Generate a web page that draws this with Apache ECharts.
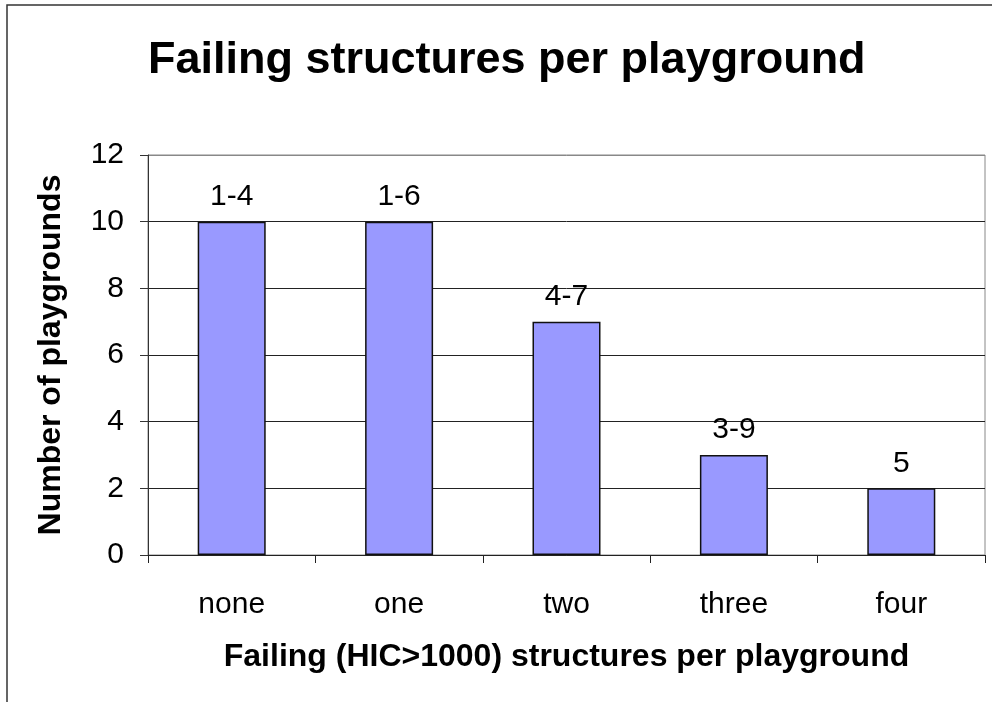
<!DOCTYPE html>
<html>
<head>
<meta charset="utf-8">
<script src="https://cdn.jsdelivr.net/npm/echarts@6/dist/echarts.min.js"></script>
<style>
	html, body { margin: 0; padding: 0; background: #fff; }
	#chart { width: 992px; height: 702px; }
</style>
</head>
<body>
<div id="chart"></div>
<script>
var categories = ['none', 'one', 'two', 'three', 'four'];
var playgrounds = [10, 10, 7, 3, 2];
var rangeLabels = ['1-4', '1-6', '4-7', '3-9', '5'];
var yTicks = [0, 2, 4, 6, 8, 10, 12];

var font = 'Arial, "Liberation Sans", sans-serif';
var chart = echarts.init(document.getElementById('chart'));

var option = {
	backgroundColor: '#fff',
	animation: false,
	title: {
		text: 'Failing structures per playground',
		left: 143,
		top: 33,
		textStyle: {
			fontFamily: font,
			fontSize: 45,
			fontWeight: 'bold',
			color: '#000'
		}
	},
	graphic: [{
		type: 'rect',
		shape: { x: 7, y: 5, width: 2000, height: 2000 },
		style: { fill: 'none', stroke: '#333', lineWidth: 1.5 },
		silent: true
	}],
	grid: {
		left: 148,
		right: 7,
		top: 155,
		bottom: 147,
		show: true,
		borderColor: '#888',
		borderWidth: 1
	},
	xAxis: {
		type: 'category',
		data: categories,
		name: 'Failing (HIC>1000) structures per playground',
		nameLocation: 'middle',
		nameGap: 86,
		nameTextStyle: { fontFamily: font, fontSize: 32, fontWeight: 'bold', color: '#000' },
		axisLine: { lineStyle: { color: '#222', width: 1 } },
		axisTick: { show: true, inside: false, length: 8, alignWithLabel: false, lineStyle: { color: '#222' } },
		axisLabel: { fontFamily: font, fontSize: 30, color: '#000', margin: 35 }
	},
	yAxis: {
		type: 'value',
		min: yTicks[0],
		max: yTicks[yTicks.length - 1],
		interval: 2,
		name: 'Number of playgrounds',
		nameLocation: 'middle',
		nameGap: 81,
		nameTextStyle: { fontFamily: font, fontSize: 32, fontWeight: 'bold', color: '#000' },
		axisLine: { show: true, lineStyle: { color: '#333', width: 1 } },
		axisTick: { show: true, length: 8, lineStyle: { color: '#333' } },
		axisLabel: { fontFamily: font, fontSize: 30, color: '#000', margin: 24 },
		splitLine: {
			show: true,
			lineStyle: { color: ['#222', '#222', '#222', '#222', '#222', '#222', '#888'], width: 1 }
		}
	},
	series: [{
		type: 'bar',
		data: playgrounds,
		barWidth: 68,
		itemStyle: { color: '#9999ff', borderColor: '#111', borderWidth: 1.5 },
		label: {
			show: true,
			position: 'top',
			distance: 10,
			fontFamily: font,
			fontSize: 30,
			color: '#000',
			formatter: function (p) { return rangeLabels[p.dataIndex]; }
		}
	}]
};
chart.setOption(option);
</script>
</body>
</html>
